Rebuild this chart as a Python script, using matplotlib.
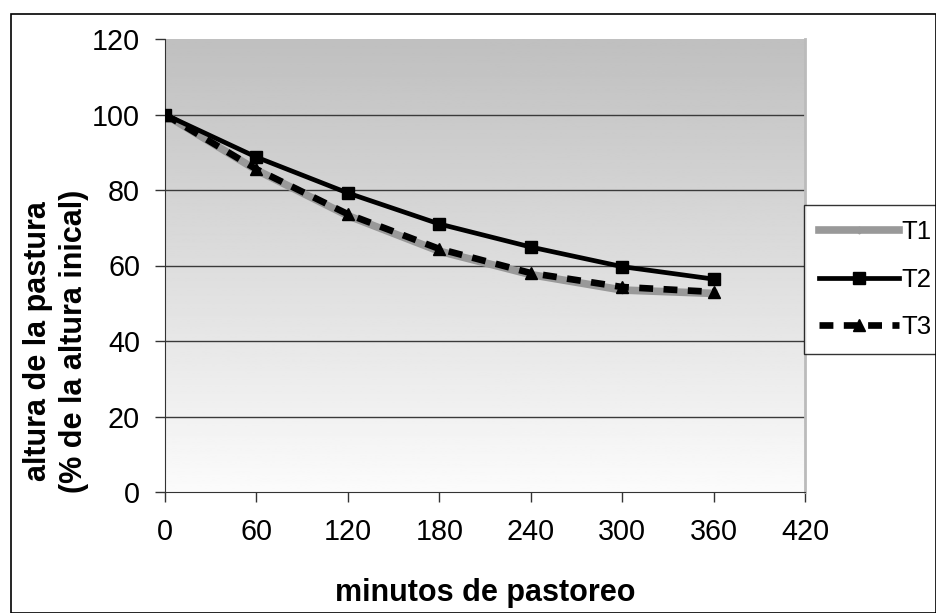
import numpy as np
import matplotlib

matplotlib.use("Agg")
import matplotlib.pyplot as plt
from matplotlib.patches import Rectangle

plt.rcParams["font.family"] = ["Liberation Sans", "DejaVu Sans"]
plt.rcParams["lines.scale_dashes"] = False

minutes = [0, 60, 120, 180, 240, 300, 360]
t1 = [100, 85.3, 73.2, 63.8, 57.6, 53.5, 52.6]
t2 = [100, 88.7, 79.2, 71.0, 64.9, 59.7, 56.4]
t3 = [100, 85.5, 73.6, 64.4, 58.0, 54.3, 53.0]

x_ticks = [0, 60, 120, 180, 240, 300, 360, 420]
y_ticks = [0, 20, 40, 60, 80, 100, 120]

fig = plt.figure(figsize=(9.36, 6.13), dpi=100)
ax = fig.add_axes([165 / 936, 1 - 492 / 613, 640 / 936, 453 / 613])

# gray gradient background of the plot area
grad = np.linspace(0.985, 0.75, 256).reshape(-1, 1)
ax.imshow(grad, cmap="gray", vmin=0, vmax=1, aspect="auto",
          extent=[0, 1, 0, 1], transform=ax.transAxes, zorder=0, origin="lower")

ax.set_xlim(0, 420)
ax.set_ylim(0, 120)
ax.set_xticks(x_ticks)
ax.set_yticks(y_ticks)
for yv in y_ticks[1:-1]:
    ax.axhline(yv, color="#3a3a3a", lw=1.0, zorder=1)

ax.plot(minutes, t1, color="#999999", lw=5.5, marker="D", ms=3.5,
        mfc="#999999", mec="#999999", label="T1", zorder=3)
ax.plot(minutes, t2, color="black", lw=3.4, marker="s", ms=8.5,
        label="T2", zorder=4)
ax.plot(minutes, t3, color="black", lw=4.8, dashes=(10, 7.5), marker="^", ms=9,
        label="T3", zorder=5)

ax.spines["top"].set_visible(False)
ax.spines["right"].set_color("#bbbbbb")
ax.spines["right"].set_linewidth(2)
ax.spines["left"].set_color("#333333")
ax.spines["bottom"].set_color("#333333")
ax.tick_params(axis="both", length=7, width=1, color="#333333", labelsize=20.7)
ax.tick_params(axis="y", pad=11)
ax.tick_params(axis="x", pad=12)

fig.text(485 / 936, 1 - 601 / 613, "minutos de pastoreo", ha="center",
         va="baseline", fontsize=22, fontweight="bold")
fig.text(56 / 936, 1 - 341 / 613, "altura de la pastura\n(% de la altura inical)",
         rotation=90, ha="center", va="center", fontsize=22,
         fontweight="bold", multialignment="center", linespacing=1.25)

leg = ax.legend(loc="upper left", bbox_to_anchor=(804 / 936, 1 - 205 / 613),
                bbox_transform=fig.transFigure, fontsize=18.5, frameon=True,
                fancybox=False, edgecolor="black", handlelength=3.1,
                labelspacing=0.9, borderpad=0.6, handletextpad=0.08,
                borderaxespad=0)
leg.get_frame().set_linewidth(1)
leg.set_zorder(10)

fig.patches.append(Rectangle((11 / 936, 0.5 / 613), 924.5 / 936, 599 / 613,
                             transform=fig.transFigure, fill=False,
                             edgecolor="black", lw=1.2))

fig.savefig("out.png", dpi=100)
